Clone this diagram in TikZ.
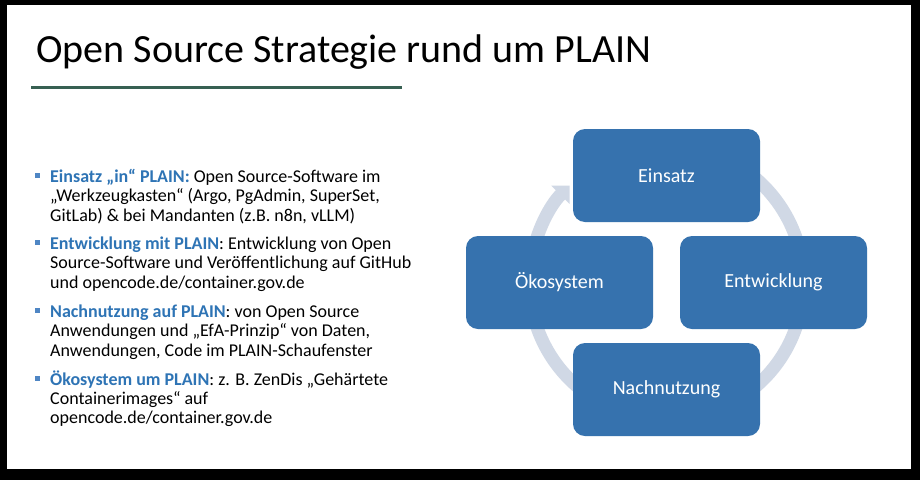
\documentclass[tikz,border=0pt]{standalone}
\usepackage{fontspec}
\setmainfont{Carlito}
\usetikzlibrary{arrows.meta}
\definecolor{boxblue}{RGB}{54,114,174}
\definecolor{ringcol}{RGB}{208,216,229}
\definecolor{headblue}{RGB}{46,116,181}
\definecolor{bulletblue}{RGB}{79,134,196}
\definecolor{rulegreen}{RGB}{55,96,82}
\newcommand\kopf[1]{{\color{headblue}\bfseries #1}}
\begin{document}
\begin{tikzpicture}[x=1pt,y=-1pt,
  cyc/.style={fill=boxblue, rounded corners=12pt, minimum width=187pt, minimum height=93pt, text=white, font=\fontsize{20}{24}\selectfont, inner sep=0pt},
  txtline/.style={anchor=base west, inner sep=0pt, font=\fontsize{18}{22}\selectfont},
  bul/.style={fill=bulletblue, minimum size=5pt, inner sep=0pt},
  ring/.style={draw=ringcol, line width=13pt, -{Triangle[length=13pt,width=25pt]}}
]
\useasboundingbox (0,0) rectangle (920,480);
\fill[black] (0,0) rectangle (920,480);
\fill[white] (7,5) rectangle (911,469);

\node[anchor=base west, inner sep=0pt, font=\fontsize{40}{48}\selectfont] (title) at (36,62) {Open Source Strategie rund um PLAIN};
\coordinate (r1) at (31,87);
\coordinate (r2) at (402,87);
\draw[rulegreen, line width=3pt] (r1) -- (r2);

% bullets
\node[bul] (b1) at (37,175) {};
\node[bul] (b2) at (37,242) {};
\node[bul] (b3) at (37,310) {};
\node[bul] (b4) at (37,378) {};

\node[txtline] (l11) at (50,182) {\kopf{Einsatz „in“ PLAIN:} Open Source-Software im};
\node[txtline] (l12) at (50,201.5) {„Werkzeugkasten“ (Argo, PgAdmin, SuperSet,};
\node[txtline] (l13) at (50,221) {GitLab) \& bei Mandanten (z.B. n8n, vLLM)};

\node[txtline] (l21) at (50,249) {\kopf{Entwicklung mit PLAIN}: Entwicklung von Open};
\node[txtline] (l22) at (50,268.5) {Source-Software und Veröffentlichung auf GitHub};
\node[txtline] (l23) at (50,288) {und opencode.de/container.gov.de};

\node[txtline] (l31) at (50,317) {\kopf{Nachnutzung auf PLAIN}: von Open Source};
\node[txtline] (l32) at (50,336.5) {Anwendungen und „EfA-Prinzip“ von Daten,};
\node[txtline] (l33) at (50,356) {Anwendungen, Code im PLAIN-Schaufenster};

\node[txtline] (l41) at (50,385) {\kopf{Ökosystem um PLAIN}: z. B. ZenDis „Gehärtete};
\node[txtline] (l42) at (50,404) {Containerimages“ auf};
\node[txtline] (l43) at (50,423) {opencode.de/container.gov.de};

% cycle
\coordinate (c) at (666.5,282.5);
\draw[ring] (c) ++(280:137) arc[start angle=280, end angle=585, radius=137];

\node[cyc] (einsatz) at (666.5,175.5) {Einsatz};
\node[cyc] (entw) at (773.5,282.5) {Entwicklung};
\node[cyc] (nach) at (666.5,389.5) {Nachnutzung};
\node[cyc] (oeko) at (559.5,282.5) {Ökosystem};
\end{tikzpicture}
\end{document}
